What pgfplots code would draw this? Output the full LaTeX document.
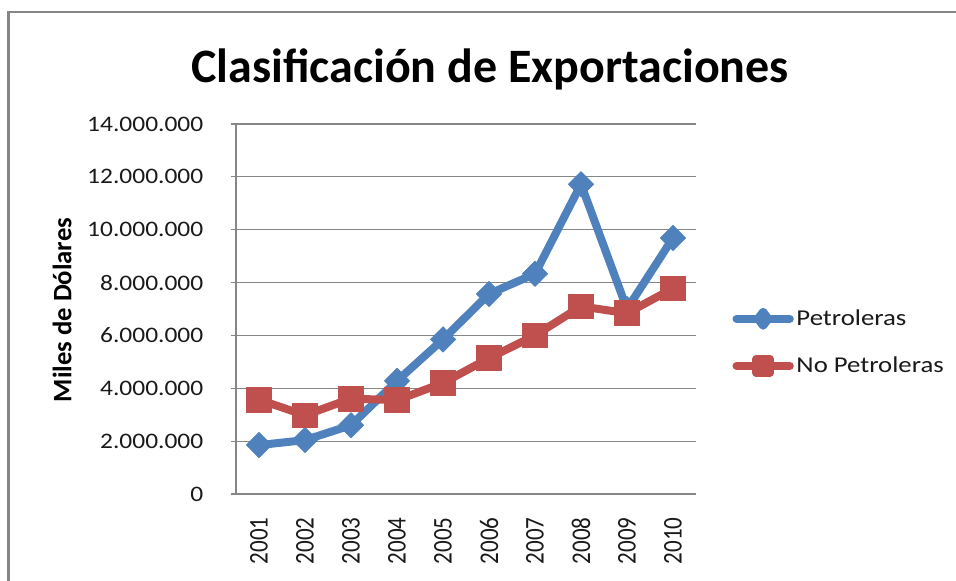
\documentclass[border=0pt]{standalone}
\usepackage{pgfplots}
\pgfplotsset{compat=1.18}
\usepackage{fontspec}
\setmainfont{Carlito}
\newfontfamily\tickfont{Carlito}[FakeStretch=1.15]
\newfontfamily\legfont{Carlito}[FakeStretch=1.18]
\newcommand{\yr}[1]{\scalebox{1}[1.17]{#1}}
\definecolor{pblue}{HTML}{4F81BD}
\definecolor{pred}{HTML}{C0504D}
\definecolor{gridg}{HTML}{868686}
\definecolor{txt}{HTML}{1A1A1A}
\begin{document}
\begin{tikzpicture}
\useasboundingbox (0pt,0pt) rectangle (717pt,435.75pt);
\draw[gridg, line width=1.6pt] (6.375pt,0pt) -- (6.375pt,426.75pt) -- (717pt,426.75pt);
\node[font=\fontsize{36}{42}\selectfont\bfseries, anchor=base] at (367.5pt,373.5pt) {Clasificación de Exportaciones};
\node[font=\fontsize{20}{24}\selectfont\bfseries, rotate=90] at (46.5pt,203.25pt) {Miles de Dólares};
\begin{axis}[
  at={(177pt,65.25pt)}, anchor=south west,
  scale only axis, width=345pt, height=277.5pt,
  xmin=0.5, xmax=10.5, ymin=0, ymax=14000000,
  xtick={1,...,10},
  xticklabels={\yr{2001},\yr{2002},\yr{2003},\yr{2004},\yr{2005},\yr{2006},\yr{2007},\yr{2008},\yr{2009},\yr{2010}},
  x tick label style={rotate=90, anchor=east, font=\fontsize{17.3}{20}\selectfont, text=txt},
  xticklabel shift=10pt,
  ytick={0,2000000,4000000,6000000,8000000,10000000,12000000,14000000},
  yticklabels={0,2.000.000,4.000.000,6.000.000,8.000.000,10.000.000,12.000.000,14.000.000},
  y tick label style={font=\tickfont\fontsize{16.6}{20}\selectfont, text=txt},
  yticklabel shift=17pt,
  scaled y ticks=false,
  ymajorgrids, grid style={gridg, line width=0.9pt},
  axis x line*=bottom, axis y line*=left,
  axis line style={gridg, line width=0.9pt, -},
  major x tick style={draw=none},
  major y tick style={gridg, line width=0.9pt},
  tick align=outside, major tick length=4pt,
  xtick pos=bottom, ytick pos=left,
  clip=false,
  legend style={at={(1.07,0.41)}, anchor=west, draw=none, fill=none,
    font=\legfont\fontsize{17}{20}\selectfont, text=txt, row sep=18pt,
    /tikz/every even column/.append style={column sep=2pt}},
  legend cell align=left,
  legend image code/.code={\draw[#1, mark repeat=2, mark phase=2, mark options={scale=0.55}] plot coordinates {(0pt,0pt) (20pt,0pt) (40pt,0pt)};},
]
\addplot[pblue, line width=6pt, line join=round, line cap=round, mark=diamond*, mark size=9.5pt, mark options={line width=0.5pt, fill=pblue, xscale=1.33}]
coordinates {(1,1850000) (2,2040000) (3,2600000) (4,4280000) (5,5850000) (6,7570000) (7,8330000) (8,11720000) (9,7000000) (10,9690000)};
\addlegendentry{Petroleras}
\addplot[pred, line width=6pt, line join=round, line cap=round, mark=square*, mark size=9.3pt, mark options={line width=0.5pt, fill=pred}]
coordinates {(1,3570000) (2,2980000) (3,3610000) (4,3550000) (5,4200000) (6,5140000) (7,6000000) (8,7100000) (9,6840000) (10,7780000)};
\addlegendentry{No Petroleras}
\end{axis}
\end{tikzpicture}
\end{document}
